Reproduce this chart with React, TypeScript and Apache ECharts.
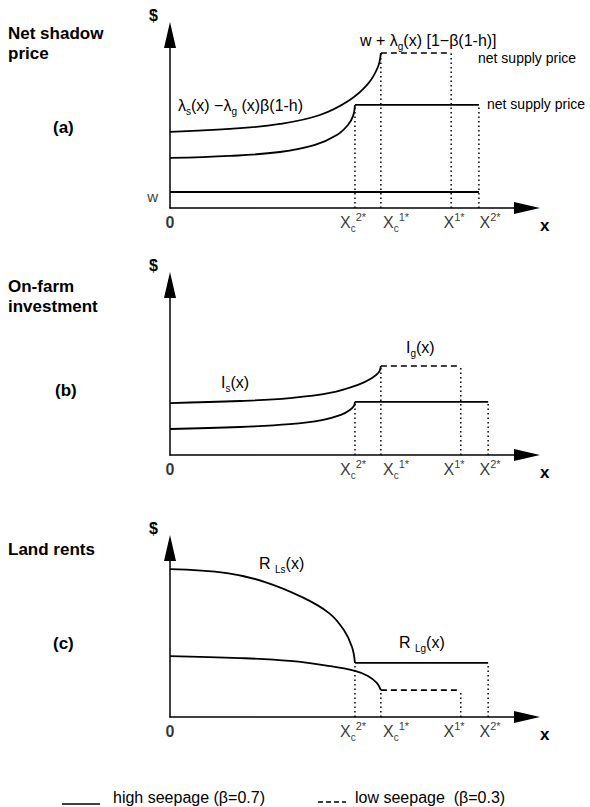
import React, { useEffect, useRef } from "react";
import * as echarts from "echarts";

const FONT = '"Liberation Sans", Arial, sans-serif';
const HIGH = "high seepage (β=0.7)";
const LOW = "low seepage  (β=0.3)";

// x positions of thresholds Xc2*, Xc1*, X1*, X2* (abstract distance units)
const thresholdsA = [5.0, 5.7, 7.6, 8.35];
const thresholdsBC = [5.0, 5.7, 7.86, 8.6];
// tick labels and where they sit along the x axis
const tickLabelX = [0, 4.95, 6.11, 7.68, 8.65];
const tickLabels = ["{z|0}", "{m|X}{s|c}{p|2*}", "{m|X}{s|c}{p|1*}", "{m|X}{p|1*}", "{m|X}{p|2*}"];

// Panel (a) net shadow price
const aUpper = [[0, 4.09], [1.62, 4.25], [2.97, 4.52], [4.05, 5.0], [4.86, 5.81], [5.35, 6.67], [5.62, 7.58], [5.7, 8.33]];
const aLower = [[0, 2.69], [1.62, 2.8], [2.97, 3.01], [3.92, 3.39], [4.51, 3.92], [4.81, 4.46], [4.95, 4.95], [5.0, 5.54]];
const aSupplyHigh = 5.54;
const aSupplyLow = 8.33;
const aWage = 0.86;

// Panel (b) on-farm investment
const bUpper = [[0, 2.84], [1.89, 2.95], [3.24, 3.11], [4.32, 3.39], [5.08, 3.83], [5.46, 4.21], [5.65, 4.54], [5.7, 4.86]];
const bLower = [[0, 1.42], [1.89, 1.53], [3.24, 1.69], [4.11, 1.91], [4.62, 2.19], [4.86, 2.46], [4.97, 2.68], [5.0, 2.9]];
const bHigh = 2.9;
const bLow = 4.86;

// Panel (c) land rents
const cUpper = [[0, 8.13], [1.54, 7.91], [2.57, 7.42], [3.57, 6.59], [4.3, 5.71], [4.7, 4.78], [4.92, 3.85], [5.0, 2.97]];
const cLower = [[0, 3.35], [1.89, 3.24], [3.24, 3.08], [4.32, 2.8], [5.0, 2.53], [5.35, 2.25], [5.59, 1.87], [5.7, 1.48]];
const cHigh = 2.97;
const cLow = 1.48;

const X_MAX = 9.65;
const Y_MAX = [9.3, 9.29, 9.29];

const grids = [
  { left: 170, top: 35, width: 357, height: 173 },
  { left: 170, top: 285, width: 357, height: 170 },
  { left: 170, top: 548, width: 357, height: 169 },
];

const tickRich = {
  z: { fontSize: 16, fontWeight: "bold", fontFamily: FONT, color: "#000", lineHeight: 22 },
  m: { fontSize: 16, fontFamily: FONT, color: "#000", lineHeight: 22 },
  s: { fontSize: 10, fontFamily: FONT, color: "#000", lineHeight: 10, verticalAlign: "bottom" },
  p: { fontSize: 11, fontFamily: FONT, color: "#000", lineHeight: 13, verticalAlign: "top" },
};

const labelRich = {
  m: { fontSize: 16, fontFamily: FONT, color: "#000", lineHeight: 22 },
  s: { fontSize: 10, fontFamily: FONT, color: "#000", lineHeight: 10, verticalAlign: "bottom" },
  n: { fontSize: 14, fontFamily: FONT, color: "#000", lineHeight: 16 },
};

function solid(name: string, g: number, data: number[][], smooth = false) {
  return {
    type: "line", name, xAxisIndex: g, yAxisIndex: g, data, symbol: "none",
    smooth: smooth ? 0.4 : false,
    lineStyle: { color: "#000", width: 1.8, type: "solid" }, z: 3, silent: true,
  };
}
function dashed(g: number, data: number[][]) {
  return {
    type: "line", name: LOW, xAxisIndex: g, yAxisIndex: g, data, symbol: "none",
    lineStyle: { color: "#000", width: 1.6, type: [6, 4] }, z: 3, silent: true,
  };
}
function guide(g: number, x: number, top: number, i: number) {
  return {
    type: "line", name: "guide" + g + "_" + i, xAxisIndex: g, yAxisIndex: g,
    data: [[x, 0], [x, top]], symbol: "none",
    lineStyle: { color: "#000", width: 1.5, type: [1.5, 3] }, z: 2, silent: true,
  };
}
function ticks(g: number) {
  return {
    type: "scatter", name: "ticks" + g, xAxisIndex: g, yAxisIndex: g, symbolSize: 0, silent: true,
    data: tickLabelX.map((x, i) => ({ value: [x, 0], name: tickLabels[i] })),
    label: { show: true, position: "bottom", distance: 3, formatter: (p: any) => p.name, rich: tickRich },
  };
}

function axes(g: number) {
  const line = { show: true, symbol: ["none", "triangle"], symbolSize: [12, 26], lineStyle: { color: "#000", width: 1.5 } };
  const x = {
    type: "value", gridIndex: g, min: 0, max: X_MAX, axisLine: line, axisTick: { show: false },
    axisLabel: { show: false }, splitLine: { show: false },
    name: "x", nameLocation: "end", nameGap: 13,
    nameTextStyle: { fontSize: 17, fontWeight: "bold", fontFamily: FONT, color: "#000", verticalAlign: "top", padding: [9, 0, 0, 0] },
  };
  const y = {
    type: "value", gridIndex: g, min: 0, max: Y_MAX[g], axisLine: { ...line, onZero: false }, axisTick: { show: false },
    axisLabel: { show: false }, splitLine: { show: false },
    name: "$", nameLocation: "end", nameGap: 12,
    nameTextStyle: { fontSize: 16, fontWeight: "bold", fontFamily: FONT, color: "#000", align: "right", padding: [0, 12, 0, 0] },
  };
  return { x, y };
}

function text(x: number, y: number, t: string, font: string) {
  return { type: "text", x, y, style: { text: t, font, fill: "#000", align: "left", verticalAlign: "middle" } };
}
function rich(x: number, y: number, t: string) {
  return { type: "text", x, y, style: { text: t, rich: labelRich, fill: "#000", align: "left", verticalAlign: "middle", font: "16px " + FONT } };
}

export default function App() {
  const ref = useRef<HTMLDivElement>(null);
  useEffect(() => {
    if (!ref.current) return;
    const chart = echarts.init(ref.current, null, { renderer: "svg" });
    const ax = [axes(0), axes(1), axes(2)];
    const [aXc2, aXc1, aX1, aX2] = thresholdsA;
    const [Xc2, Xc1, X1, X2] = thresholdsBC;
    const TITLE = "bold 17px " + FONT;

    const series: any[] = [
      // panel (a)
      solid(HIGH, 0, aUpper, true),
      dashed(0, [[aXc1, aSupplyLow], [aX1, aSupplyLow]]),
      solid(HIGH, 0, aLower, true),
      solid(HIGH, 0, [[aXc2, aSupplyHigh], [aX2, aSupplyHigh]]),
      solid(HIGH, 0, [[0, aWage], [aX2, aWage]]),
      guide(0, aXc2, aSupplyHigh, 0), guide(0, aXc1, aSupplyLow, 1), guide(0, aX1, aSupplyLow, 2), guide(0, aX2, aSupplyHigh, 3),
      ticks(0),
      {
        type: "scatter", name: "wageLabel", xAxisIndex: 0, yAxisIndex: 0, symbolSize: 0, silent: true,
        data: [[0, aWage]],
        label: { show: true, position: "left", distance: 12, offset: [0, 4], formatter: "w", fontSize: 15, fontFamily: FONT, color: "#000" },
      },
      // panel (b)
      solid(HIGH, 1, bUpper, true),
      dashed(1, [[Xc1, bLow], [X1, bLow]]),
      solid(HIGH, 1, bLower, true),
      solid(HIGH, 1, [[Xc2, bHigh], [X2, bHigh]]),
      guide(1, Xc2, bHigh, 0), guide(1, Xc1, bLow, 1), guide(1, X1, bLow, 2), guide(1, X2, bHigh, 3),
      ticks(1),
      // panel (c)
      solid(HIGH, 2, cUpper, true),
      solid(HIGH, 2, cLower, true),
      dashed(2, [[Xc1, cLow], [X1, cLow]]),
      solid(HIGH, 2, [[Xc2, cHigh], [X2, cHigh]]),
      guide(2, Xc2, cHigh, 0), guide(2, Xc1, cLow, 1), guide(2, X1, cLow, 2), guide(2, X2, cHigh, 3),
      ticks(2),
    ];

    chart.setOption({
      animation: false,
      backgroundColor: "#fff",
      grid: grids,
      xAxis: ax.map((a) => a.x),
      yAxis: ax.map((a) => a.y),
      series,
      graphic: [
        text(8, 33, "Net shadow", TITLE),
        text(8, 53, "price", TITLE),
        text(53, 127, "(a)", TITLE),
        text(8, 286, "On-farm", TITLE),
        text(8, 306, "investment", TITLE),
        text(55, 390, "(b)", TITLE),
        text(8, 549, "Land rents", TITLE),
        text(53, 643, "(c)", TITLE),
        rich(360, 40, "{m|w + λ}{s|g}{m|(x) [1−β(1-h)]}"),
        rich(478, 58, "{n|net supply price}"),
        rich(487, 104, "{n|net supply price}"),
        rich(178, 105, "{m|λ}{s|s}{m|(x) −λ}{s|g}{m| (x)β(1-h)}"),
        rich(406, 347, "{m|I}{s|g}{m|(x)}"),
        rich(221, 382, "{m|I}{s|s}{m|(x)}"),
        rich(259, 563, "{m|R }{s|Ls}{m|(x)}"),
        rich(399, 642, "{m|R }{s|Lg}{m|(x)}"),
        // legend
        { type: "line", shape: { x1: 62, y1: 804, x2: 100, y2: 804 }, style: { stroke: "#000", lineWidth: 1.6 } },
        text(113, 797, HIGH, "16px " + FONT),
        { type: "line", shape: { x1: 318, y1: 802, x2: 346, y2: 802 }, style: { stroke: "#000", lineWidth: 1.5, lineDash: [5, 3] } },
        text(355, 797, LOW, "16px " + FONT),
      ],
    });
    return () => chart.dispose();
  }, []);
  return (
    <div
      ref={ref}
      style={{ position: "fixed", left: 0, top: 0, width: 590, height: 807, background: "#fff" }}
    />
  );
}
